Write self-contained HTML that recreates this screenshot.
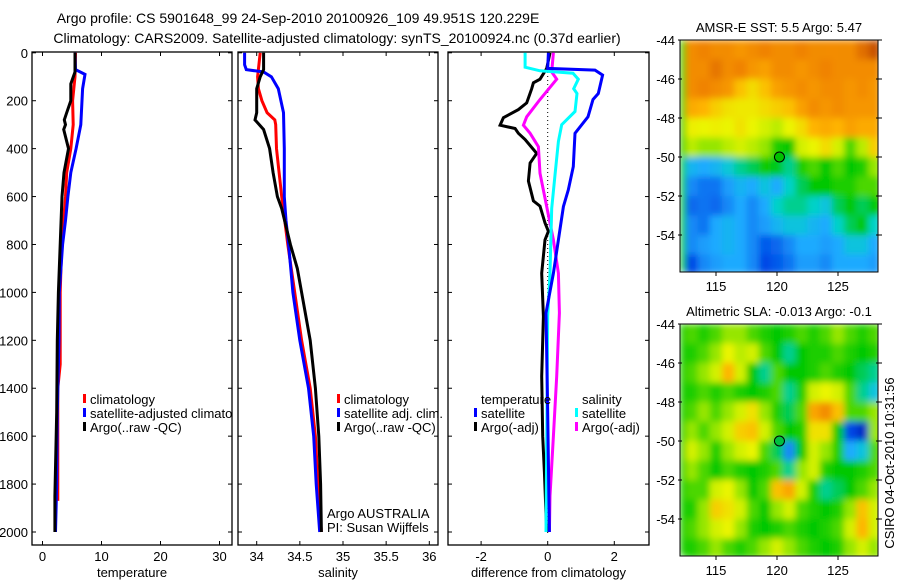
<!DOCTYPE html>
<html><head><meta charset="utf-8"><style>
body{margin:0;background:#fff;}
svg{display:block;font-family:"Liberation Sans",sans-serif;}
text{font-size:13px;fill:#000;}
</style></head><body>
<svg id="c" width="900" height="580" viewBox="0 0 900 580" xmlns="http://www.w3.org/2000/svg">
<defs>
<filter id="blur" x="0" y="0" width="1" height="1"><feGaussianBlur stdDeviation="3.5"/></filter>
<clipPath id="clip1"><rect x="680" y="40" width="198" height="232"/></clipPath>
<clipPath id="clip2"><rect x="680" y="324" width="198" height="232"/></clipPath>
<clipPath id="clipLeg1"><rect x="32" y="380" width="200" height="60"/></clipPath>
</defs>
<text x="298" y="23" text-anchor="middle" style="font-size:14px">Argo profile: CS 5901648_99 24-Sep-2010 20100926_109 49.951S 120.229E</text>
<text x="337" y="43" text-anchor="middle" style="font-size:14px">Climatology: CARS2009. Satellite-adjusted climatology: synTS_20100924.nc (0.37d earlier)</text>
<g id="g"></g>
</svg>
<script>
const depthTicks=[0,200,400,600,800,1000,1200,1400,1600,1800,2000];
const tempTicks=[0,10,20,30];
const tClimDepth=[0,100,150,200,300,400,500,600,800,1000,1300,1400,1870];
const tClimVal=[5.6,5.5,5.3,5.1,5.2,4.8,4.1,3.9,3.25,3.0,3.0,2.6,2.6];
const tSatDepth=[0,70,90,150,300,400,500,600,700,800,1000,1200,1500,1800,2000];
const tSatVal=[5.5,5.6,7.2,6.8,6.5,5.7,4.8,4.3,3.9,3.4,2.85,2.8,2.5,2.4,2.2];
const tArgoDepth=[0,80,130,200,250,280,300,320,400,500,600,800,1000,1200,1500,1850,2000];
const tArgoVal=[5.5,5.5,4.8,4.8,4.1,3.7,3.9,3.6,4.4,3.65,3.3,3.0,2.7,2.5,2.4,2.1,2.1];
const salTicks=[34,34.5,35,35.5,36];
const sClimDepth=[0,100,150,200,250,280,300,400,500,600,800,1000,1200,1400,1600,1800,2000];
const sClimVal=[34.04,34.01,34.02,34.06,34.12,34.21,34.22,34.23,34.26,34.29,34.36,34.44,34.52,34.62,34.68,34.71,34.75];
const sSatDepth=[0,50,70,80,100,150,250,400,600,700,800,1000,1200,1400,1600,1800,2000];
const sSatVal=[33.86,33.86,33.88,34.08,34.17,34.25,34.31,34.32,34.32,34.34,34.37,34.42,34.50,34.60,34.66,34.69,34.73];
const sArgoDepth=[0,70,100,150,250,280,320,400,500,600,650,800,900,1000,1200,1400,1600,1800,2000];
const sArgoVal=[34.08,34.08,34.04,34.0,34.0,33.98,34.08,34.15,34.19,34.24,34.29,34.39,34.47,34.52,34.62,34.68,34.72,34.74,34.75];
const diffTicks=[-2,0,2];
const dTSatDepth=[0,65,72,93,170,195,267,336,475,572,642,781,920,1086,1500,2000];
const dTSatVal=[0.02,0.0,1.42,1.65,1.52,1.36,1.21,0.82,0.77,0.62,0.47,0.32,0.17,-0.05,0.0,0.05];
const dSSatDepth=[0,60,75,85,110,150,170,245,300,370,510,650,920,1100,2000];
const dSSatVal=[-0.68,-0.68,-0.23,0.76,0.92,0.78,0.88,0.82,0.42,0.32,0.22,0.12,0.07,0.0,-0.05];
const dSArgoDepth=[0,80,110,195,267,302,336,392,503,642,781,920,1086,1350,1600,1850,2000];
const dSArgoVal=[0.17,0.12,0.27,-0.23,-0.63,-0.73,-0.53,-0.28,-0.23,-0.03,0.17,0.32,0.35,0.27,0.17,0.07,0.05];
const dTArgoDepth=[0,65,110,125,150,209,237,271,302,316,336,362,420,460,535,618,640,710,745,781,920,1100,1350,1600,1750,2000];
const dTArgoVal=[0.07,-0.03,-0.23,-0.43,-0.48,-0.63,-0.88,-1.33,-1.43,-0.98,-0.88,-0.68,-0.33,-0.53,-0.58,-0.43,-0.23,-0.08,0.02,-0.08,-0.18,-0.13,-0.18,-0.15,-0.1,-0.03];
const mapLat=[-44.5,-45.5,-46.5,-47.5,-48.5,-49.5,-50.5,-51.5,-52.5,-53.5,-54.5,-55.5];
const mapLon=[113,114,115,116,117,118,119,120,121,122,123,124,125,126,127,128];
const sstGrid=[
[.8,.82,.8,.8,.78,.8,.82,.8,.8,.82,.8,.8,.8,.8,.85,.9],
[.8,.8,.84,.8,.82,.78,.76,.8,.8,.78,.8,.82,.8,.8,.8,.8],
[.8,.82,.8,.78,.7,.66,.7,.76,.78,.8,.78,.8,.8,.78,.8,.78],
[.74,.72,.68,.65,.64,.64,.66,.68,.7,.76,.8,.78,.8,.78,.78,.78],
[.63,.62,.63,.62,.65,.62,.6,.58,.62,.66,.72,.74,.72,.76,.74,.74],
[.58,.55,.55,.58,.6,.58,.55,.47,.45,.6,.62,.66,.6,.5,.58,.68],
[.32,.3,.32,.36,.4,.42,.46,.44,.4,.47,.5,.45,.5,.45,.47,.55],
[.25,.22,.22,.28,.32,.3,.35,.3,.38,.42,.45,.45,.47,.47,.5,.5],
[.2,.22,.2,.25,.3,.25,.3,.38,.4,.4,.38,.35,.42,.45,.42,.45],
[.25,.22,.3,.32,.3,.25,.28,.32,.35,.35,.32,.3,.38,.42,.45,.38],
[.25,.28,.3,.32,.3,.25,.18,.2,.25,.3,.3,.28,.3,.35,.35,.3],
[.15,.25,.28,.3,.3,.25,.15,.18,.22,.28,.28,.25,.3,.3,.3,.28]];
const slaGrid=[
[.5,.47,.5,.55,.55,.5,.47,.45,.47,.5,.47,.5,.55,.5,.47,.5],
[.47,.5,.55,.62,.58,.6,.5,.45,.4,.45,.47,.47,.5,.47,.45,.47],
[.5,.55,.6,.72,.6,.45,.4,.5,.45,.45,.47,.5,.47,.45,.42,.4],
[.47,.5,.47,.5,.47,.45,.47,.5,.4,.47,.6,.62,.6,.5,.4,.35],
[.5,.55,.5,.55,.6,.65,.55,.47,.42,.5,.75,.8,.7,.5,.5,.55],
[.55,.5,.55,.6,.68,.7,.6,.5,.45,.47,.65,.65,.45,.15,.1,.55],
[.6,.55,.47,.55,.6,.62,.5,.42,.25,.45,.6,.55,.47,.3,.35,.5],
[.55,.5,.45,.5,.47,.45,.47,.5,.4,.55,.6,.47,.45,.45,.47,.5],
[.5,.5,.6,.62,.55,.45,.5,.7,.75,.6,.47,.4,.42,.45,.5,.55],
[.47,.55,.68,.65,.6,.5,.45,.55,.6,.5,.47,.45,.47,.55,.7,.6],
[.5,.55,.6,.62,.55,.47,.45,.47,.5,.47,.45,.47,.5,.6,.72,.6],
[.47,.5,.55,.5,.47,.5,.55,.6,.55,.5,.47,.45,.47,.55,.6,.55]];
const latTicks=[-44,-46,-48,-50,-52,-54];
const lonTicks=[115,120,125];
const argoLon=120.2, argoLat=-50.0;

const NS='http://www.w3.org/2000/svg';
const G=document.getElementById('g');
function el(tag,attrs,parent){const e=document.createElementNS(NS,tag);for(const k in attrs)e.setAttribute(k,attrs[k]);(parent||G).appendChild(e);return e;}
function txt(x,y,s,anchor,parent){const t=el('text',{x:x,y:y,'text-anchor':anchor||'start'},parent);t.textContent=s;return t;}
const yD=d=>52.8+d*0.2396;
const PT=52, PB=545;
const panels=[
 {name:'temperature',x0:32,x1:232,f:v=>42.5+v*5.9,ticks:tempTicks,label:'temperature'},
 {name:'salinity',x0:238,x1:438,f:v=>256.7+(v-34)*86.3,ticks:salTicks,label:'salinity'},
 {name:'difference',x0:448,x1:649,f:v=>547.7+v*33.3,ticks:diffTicks,label:'difference from climatology'}];
panels.forEach((p,i)=>{
 const g=el('g',{});
 
 
 const r=el('rect',{x:p.x0,y:PT,width:p.x1-p.x0,height:PB-PT,fill:'none',stroke:'#000','stroke-width':1.3},g);
 
 depthTicks.forEach(d=>{const y=yD(d);
  el('line',{x1:p.x0,x2:p.x0+4,y1:y,y2:y,stroke:'#000'},g);
  el('line',{x1:p.x1-4,x2:p.x1,y1:y,y2:y,stroke:'#000'},g);
  if(i==0){const t=txt(28,y+5,String(d),'end',g);}
 });
 p.ticks.forEach(v=>{const x=p.f(v);
  el('line',{x1:x,x2:x,y1:PB,y2:PB-4,stroke:'#000'},g);
  el('line',{x1:x,x2:x,y1:PT,y2:PT+4,stroke:'#000'},g);
  const t=txt(x,561,String(v),'middle',g);
 });
 const xl=txt((p.x0+p.x1)/2,577,p.label,'middle',g);
 
});
const zl=el('line',{x1:panels[2].f(0),x2:panels[2].f(0),y1:PT,y2:535,stroke:'#000','stroke-dasharray':'1,3'});

function series(p,depths,vals,color,name){
 const pts=depths.map((d,k)=>p.f(vals[k]).toFixed(1)+','+yD(d).toFixed(1)).join(' ');
 const l=el('polyline',{points:pts,fill:'none',stroke:color,'stroke-width':3,'stroke-linejoin':'miter'});
 
 
}
const [P1,P2,P3]=panels;
series(P1,tClimDepth,tClimVal,'#ff0000','temp-climatology-line');
series(P1,tSatDepth,tSatVal,'#0000ff','temp-satellite-adjusted-line');
series(P1,tArgoDepth,tArgoVal,'#000','temp-argo-line');
series(P2,sClimDepth,sClimVal,'#ff0000','sal-climatology-line');
series(P2,sSatDepth,sSatVal,'#0000ff','sal-satellite-adjusted-line');
series(P2,sArgoDepth,sArgoVal,'#000','sal-argo-line');
series(P3,dTArgoDepth,dTArgoVal,'#000','diff-temp-argo-line');
series(P3,dSArgoDepth,dSArgoVal,'#ff00ff','diff-sal-argo-line');
series(P3,dSSatDepth,dSSatVal,'#00ffff','diff-sal-satellite-line');
series(P3,dTSatDepth,dTSatVal,'#0000ff','diff-temp-satellite-line');
function legend(x,y,items,name,clip){
 const g=el('g',clip?{'clip-path':'url(#'+clip+')'}:{});
 items.forEach((it,k)=>{const yy=y+k*14;
  if(it[1])el('rect',{x:x,y:yy-10,width:3,height:9,fill:it[1]},g);
  const t=txt(x+7,yy,it[0],'start',g);});
}
legend(83,404,[['climatology','#ff0000'],['satellite-adjusted climatology','#0000ff'],['Argo(..raw -QC)','#000']],'temperature-legend','clipLeg1');
legend(337,404,[['climatology','#ff0000'],['satellite adj. clim.','#0000ff'],['Argo(..raw -QC)','#000']],'salinity-legend');
legend(474,404,[['temperature',null],['satellite','#0000ff'],['Argo(-adj)','#000']],'diff-temperature-legend');
legend(575,404,[['salinity',null],['satellite','#00ffff'],['Argo(-adj)','#ff00ff']],'diff-salinity-legend');
const a1=txt(327,518,'Argo AUSTRALIA');
const a2=txt(327,532,'PI: Susan Wijffels');
const stops=[[0,[0,0,140]],[0.15,[0,70,230]],[0.3,[30,170,255]],[0.38,[0,210,200]],[0.45,[0,200,0]],[0.55,[150,230,0]],[0.62,[235,245,0]],[0.72,[255,180,0]],[0.82,[240,130,0]],[0.92,[190,70,0]],[1,[130,0,0]]];
function cmap(v){for(let k=1;k<stops.length;k++){if(v<=stops[k][0]){const a=stops[k-1],b=stops[k],t=(v-a[0])/(b[0]-a[0]);return 'rgb('+a[1].map((c,j)=>Math.round(c+(b[1][j]-c)*t)).join(',')+')';}}return 'rgb(130,0,0)';}
function drawMap(top,grid,clip,name,title,circleFill){
 const lx=lon=>716+(lon-115)*12.2, ly=lat=>top+(-44-lat)*19.5;
 const g=el('g',{});
 const cg=el('g',{'clip-path':'url(#'+clip+')'},g);
 const hg=el('g',{filter:'url(#blur)'},cg);
 el('rect',{x:680,y:top,width:198,height:232,fill:cmap(0.47)},hg);
 grid.forEach((row,ri)=>row.forEach((v,ci)=>{
  const c=el('rect',{x:lx(mapLon[ci]-0.5),y:ly(mapLat[ri]+0.5),width:12.4,height:19.7,fill:cmap(v)},hg);
  
  
 }));
 el('rect',{x:680,y:top,width:198,height:232,fill:'none',stroke:'#000'},g);
 latTicks.forEach(l=>{const y=ly(l);el('line',{x1:678,x2:682,y1:y,y2:y,stroke:'#000'},g);el('line',{x1:876,x2:882,y1:y,y2:y,stroke:'#000'},g);
  const t=txt(675,y+5,String(l),'end',g);});
 lonTicks.forEach(l=>{const x=lx(l);el('line',{x1:x,x2:x,y1:top+232,y2:top+236,stroke:'#000'},g);
  const t=txt(x,top+251,String(l),'middle',g);});
 const c=el('circle',{cx:lx(argoLon),cy:ly(argoLat),r:5,fill:circleFill,stroke:'#000'},g);
 
 const tt=txt(779,top-8,title,'middle',g);
 tt.setAttribute('font-size','12');
}
drawMap(40,sstGrid,'clip1','sst-map','AMSR-E SST: 5.5 Argo: 5.47','#00c000');
drawMap(324,slaGrid,'clip2','sla-map','Altimetric SLA: -0.013 Argo: -0.1','#00c040');
const st=el('text',{x:0,y:0,transform:'translate(894,463) rotate(-90)','text-anchor':'middle'});
st.textContent='CSIRO 04-Oct-2010 10:31:56';


</script>
</body></html>
